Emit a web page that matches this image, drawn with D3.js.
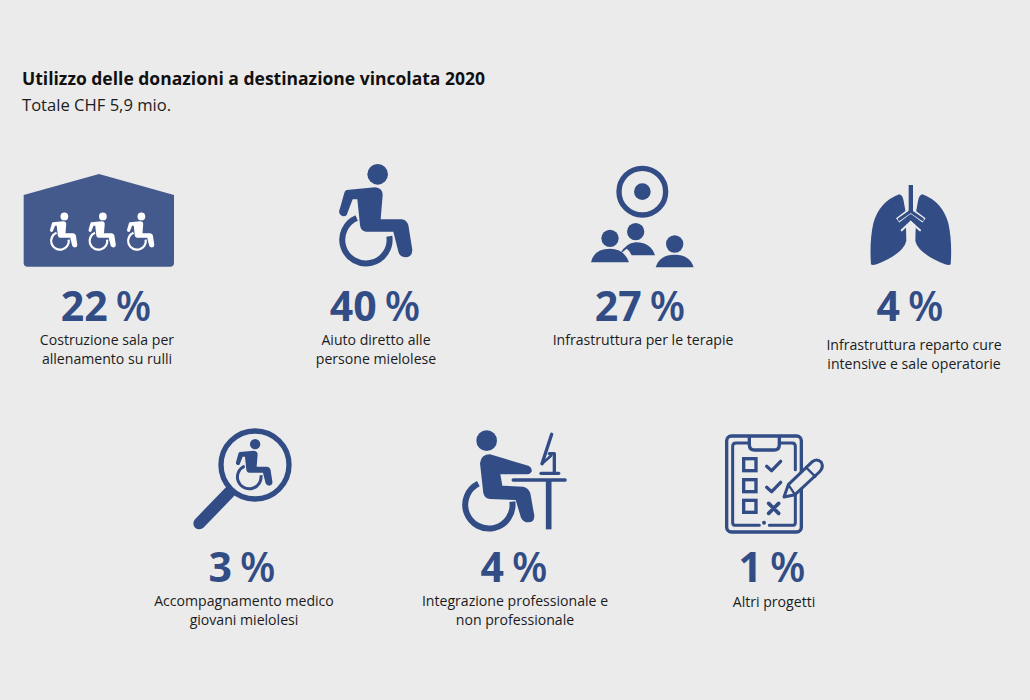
<!DOCTYPE html>
<html><head><meta charset="utf-8">
<script src="https://cdn.jsdelivr.net/npm/d3@7"></script>
<style>html,body{margin:0;padding:0;background:#ebebeb;overflow:hidden}svg{display:block}text{font-family:"Open Sans","Noto Sans",sans-serif}</style>
</head><body><div id="c"></div>
<script>
const title = "Utilizzo delle donazioni a destinazione vincolata 2020";
const subtitle = "Totale CHF 5,9 mio.";
const values = [22, 40, 27, 4, 3, 4, 1];
const labels = [
  ["Costruzione sala per", "allenamento su rulli"],
  ["Aiuto diretto alle", "persone mielolese"],
  ["Infrastruttura per le terapie"],
  ["Infrastruttura reparto cure", "intensive e sale operatorie"],
  ["Accompagnamento medico", "giovani mielolesi"],
  ["Integrazione professionale e", "non professionale"],
  ["Altri progetti"]
];
const icons = ["house", "chair", "target", "lungs", "search", "desk", "list"];

const BLUE = "#324c85", INK = "#1c1c1c", BG = "#ebebeb";
const numX = [106, 375, 640, 910, 242, 514, 772];
const numY = [321, 321, 321, 321, 582, 582, 582];
const labX = [107, 376, 643, 914, 244, 515, 774];
const labY = [345, 345, 345, 350, 606, 606, 607];

const svg = d3.select("#c").append("svg").attr("width", 1030).attr("height", 700);
svg.append("rect").attr("width", 1030).attr("height", 700).attr("fill", BG);
svg.append("text").attr("x", 22).attr("y", 85).attr("font-size", 17.5).attr("font-weight", 700).attr("fill", "#111").text(title);
svg.append("text").attr("x", 22).attr("y", 111).attr("font-size", 16.6).attr("fill", INK).text(subtitle);

// glyph groups are drawn in 3x units, anchored at a page origin
const zoomed = (ox, oy) => svg.append("g").attr("transform", `translate(${ox},${oy}) scale(${1/3})`);
const P = (g, d, fill = BLUE) => g.append("path").attr("d", d).attr("fill", fill);
const L = (g, d, w, col = BLUE, cap = "round") => g.append("path").attr("d", d).attr("fill", "none").attr("stroke", col).attr("stroke-width", w).attr("stroke-linecap", cap).attr("stroke-linejoin", "round");
const C = (g, x, y, r, fill = BLUE) => g.append("circle").attr("cx", x).attr("cy", y).attr("r", r).attr("fill", fill);

function chair(x, y, s, col) {
  const g = svg.append("g").attr("transform", `translate(${x},${y}) scale(${s/3}) translate(-108,-238)`);
  C(g, 143, 43, 31, col);
  P(g, "M50 90 L135 82 Q158 84 158 105 L152 178 L215 178 Q230 180 235 195 L247 270 Q247 290 228 292 Q212 292 206 278 L190 215 L108 215 Q92 213 90 195 L82 118 L68 118 L50 165 Q42 172 32 165 Q24 158 30 145 L42 102 Q44 92 50 90 Z", col);
  L(g, "M80 174 A71 71 0 1 0 178 229", 18, col, "butt");
}
const draw = {
  house() {
    const g = zoomed(0, 150);
    P(g, "M71 135 L297 72 L522 135 L522 338 Q522 350 510 350 L83 350 Q71 350 71 338 Z", "#445a8d");
    chair(60, 240.7, .374, "#fff"); chair(98.5, 240.7, .374, "#fff"); chair(137, 240.7, .374, "#fff");
  },
  chair() { chair(366, 239.3, 1, BLUE); },
  target() {
    const g = zoomed(520, 150);
    g.append("circle").attr("cx", 367).attr("cy", 125).attr("r", 70).attr("fill", "none").attr("stroke", BLUE).attr("stroke-width", 16);
    C(g, 367, 125, 25);
    C(g, 270, 265, 26); C(g, 347, 245, 26); C(g, 464, 282, 26);
    P(g, "M213 337 Q222 296 270 296 Q312 296 327 337 Z");
    P(g, "M298 314 Q318 278 347 277 Q392 277 405 316 L335 316 Q330 302 320 296 Z");
    P(g, "M407 352 Q418 314 464 314 Q510 314 521 352 Z");
  },
  lungs() {
    const g = zoomed(860, 175);
    const lung = "M118 58 Q128 60 131 78 L137 112 L139 198 Q130 236 50 268 Q36 272 33 268 Q28 200 40 145 Q58 80 118 58 Z";
    P(g, lung);
    g.append("path").attr("d", lung).attr("fill", BLUE).attr("transform", "translate(305,0) scale(-1,1)");
    P(g, "M136 118 L169 118 L169 160 L152 136 L136 160 Z");
    P(g, "M139 165 L166 165 L166 150 L152 138 L139 150 Z", BG);
    L(g, "M125 166 L152 141 L180 166", 6, BG, "round");
    L(g, "M113 136 L152 106 L192 136", 16, BG, "butt");
    L(g, "M152.5 30 L152.5 106", 18, BG, "butt");
    L(g, "M118 133 L152 109 L187 133", 9, BLUE, "round");
    L(g, "M152.5 30 L152.5 110", 13, BLUE, "butt");
  },
  search() {
    const g = zoomed(140, 420);
    L(g, "M270 215 L178 310", 36, BLUE);
    g.append("circle").attr("cx", 345).attr("cy", 135).attr("r", 102).attr("fill", BG).attr("stroke", BLUE).attr("stroke-width", 16);
    chair(249.3, 476.7, .5, BLUE);
  },
  desk() {
    const g = zoomed(455, 425);
    C(g, 95, 47, 31);
    P(g, "M75 115 Q78 88 105 88 L220 122 Q232 128 230 140 Q225 148 215 148 L136 148 L142 182 L205 185 Q222 190 226 205 L238 272 Q238 292 220 292 Q205 292 198 278 L182 225 L105 222 Q90 222 85 205 Z");
    L(g, "M70 176 A71 71 0 1 0 172 230", 18, BLUE, "butt");
    L(g, "M175 165 L330 165", 11, BLUE);
    L(g, "M281 165 L281 313", 17, BLUE, "butt");
    L(g, "M258 145 L311 145", 10, BLUE);
    L(g, "M298 145 L298 86 L283 86", 10, BLUE);
    L(g, "M261 116 L290 28", 10, BLUE);
    L(g, "M261 116 L288 92", 8, BLUE);
  },
  list() {
    const g = zoomed(720, 428);
    g.append("rect").attr("x", 20).attr("y", 24).attr("width", 224).attr("height", 288).attr("rx", 14).attr("fill", "none").attr("stroke", BLUE).attr("stroke-width", 10);
    L(g, "M88 45 L48 45 Q38 45 38 55 L38 284 Q38 292 48 292 L118 292 M148 292 L216 292 Q226 292 226 284 L226 200 M226 125 L226 55 Q226 45 216 45 L178 45", 9, BLUE);
    L(g, "M88 26 L88 50 Q88 66 104 66 L162 66 Q178 66 178 50 L178 26", 10, BLUE);
    C(g, 132, 284, 6);
    [92, 155, 217].forEach(y => g.append("rect").attr("x", 71).attr("y", y).attr("width", 37).attr("height", 36).attr("fill", "none").attr("stroke", BLUE).attr("stroke-width", 10));
    L(g, "M140 115 L155 128 L182 100", 10, BLUE);
    L(g, "M140 178 L155 191 L182 163", 10, BLUE);
    L(g, "M146 226 L176 256 M176 226 L146 256", 11, BLUE);
    g.append("path").attr("d", "M192 207 L205 170 L277 101 Q292 90 304 103 Q312 118 298 132 L225 200 Z").attr("fill", BG).attr("stroke", BLUE).attr("stroke-width", 9).attr("stroke-linejoin", "round");
    L(g, "M258 118 L286 146 M205 170 L225 200", 7, BLUE);
  }
};
icons.forEach(k => draw[k]());

values.forEach((v, i) => {
  const t = svg.append("text").attr("x", numX[i]).attr("y", numY[i]).attr("text-anchor", "middle").attr("fill", BLUE);
  t.append("tspan").attr("font-size", 41).attr("font-weight", 700).text(v);
  t.append("tspan").attr("dx", 8).attr("font-size", 41).attr("font-weight", 600).text("%");
  labels[i].forEach((s, j) => svg.append("text").attr("x", labX[i]).attr("y", labY[i] + j * 18.7)
    .attr("text-anchor", "middle").attr("font-size", 14.1).attr("fill", INK).text(s));
});
</script></body></html>
